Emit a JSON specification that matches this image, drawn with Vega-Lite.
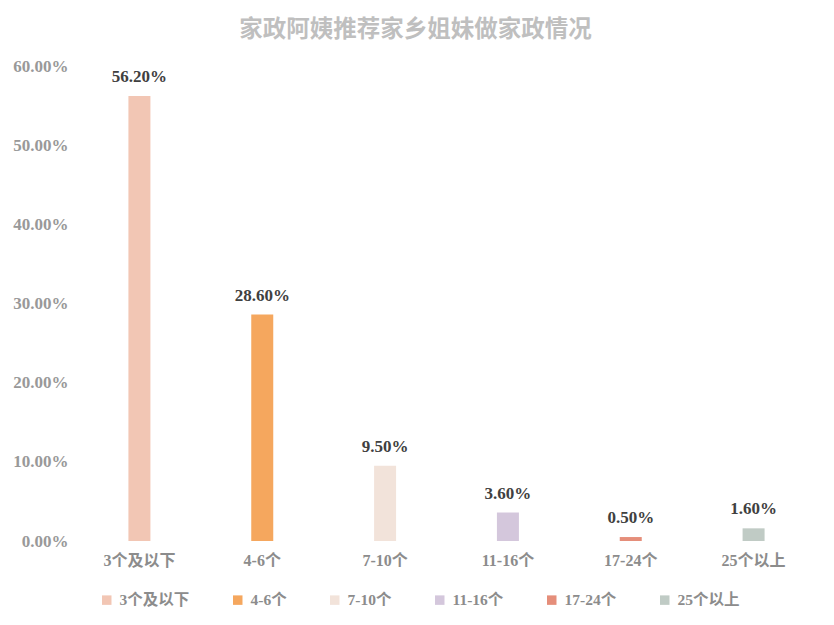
{
  "$schema": "https://vega.github.io/schema/vega-lite/v6.json",
  "width": 737,
  "height": 475,
  "autosize": {"type": "none"},
  "padding": {"left": 78, "top": 66, "right": 19, "bottom": 84},
  "background": "white",
  "config": {
    "view": {"stroke": null},
    "font": "Liberation Serif, Noto Sans CJK SC"
  },
  "title": {
    "text": "家政阿姨推荐家乡姐妹做家政情况",
    "fontSize": 23.5,
    "fontWeight": "bold",
    "color": "#bfbfbf",
    "anchor": "middle",
    "dx": -31,
    "offset": 16,
    "font": "Noto Sans CJK SC"
  },
  "data": {
    "values": [
      {"cat": "3个及以下", "value": 0.562},
      {"cat": "4-6个", "value": 0.286},
      {"cat": "7-10个", "value": 0.095},
      {"cat": "11-16个", "value": 0.036},
      {"cat": "17-24个", "value": 0.005},
      {"cat": "25个以上", "value": 0.016}
    ]
  },
  "encoding": {
    "x": {
      "field": "cat",
      "type": "nominal",
      "sort": null,
      "title": null,
      "axis": {
        "labelAngle": 0,
        "domain": false,
        "ticks": false,
        "labelPadding": 11,
        "labelFontSize": 16,
        "labelFontWeight": "bold",
        "labelColor": "#8c8c8c",
        "labelFont": "Liberation Serif, Noto Sans CJK SC"
      }
    },
    "y": {
      "field": "value",
      "type": "quantitative",
      "title": null,
      "scale": {"domain": [0, 0.6], "nice": false},
      "axis": {
        "values": [0, 0.1, 0.2, 0.3, 0.4, 0.5, 0.6],
        "format": ".2%",
        "domain": false,
        "ticks": false,
        "grid": false,
        "labelPadding": 10,
        "labelFontSize": 17,
        "labelFontWeight": "bold",
        "labelColor": "#999999"
      }
    }
  },
  "layer": [
    {
      "mark": {"type": "bar", "width": 22},
      "encoding": {
        "color": {
          "field": "cat",
          "type": "nominal",
          "sort": null,
          "scale": {
            "domain": ["3个及以下", "4-6个", "7-10个", "11-16个", "17-24个", "25个以上"],
            "range": ["#F2C6B4", "#F5A75E", "#F2E3DA", "#D4C7DC", "#E58E7A", "#C0CBC5"]
          },
          "legend": {
            "orient": "none",
            "legendX": 21,
            "legendY": 526,
            "direction": "horizontal",
            "title": null,
            "symbolType": "square",
            "symbolSize": 90,
            "symbolStrokeWidth": 0,
            "labelFontSize": 15.5,
            "labelFontWeight": "bold",
            "labelColor": "#8c8c8c",
            "columnPadding": 40,
            "labelOffset": 5
          }
        }
      }
    },
    {
      "mark": {"type": "text", "dy": -10, "baseline": "bottom", "fontSize": 17, "fontWeight": "bold", "color": "#404040"},
      "encoding": {
        "text": {"field": "value", "type": "quantitative", "format": ".2%"}
      }
    }
  ]
}
